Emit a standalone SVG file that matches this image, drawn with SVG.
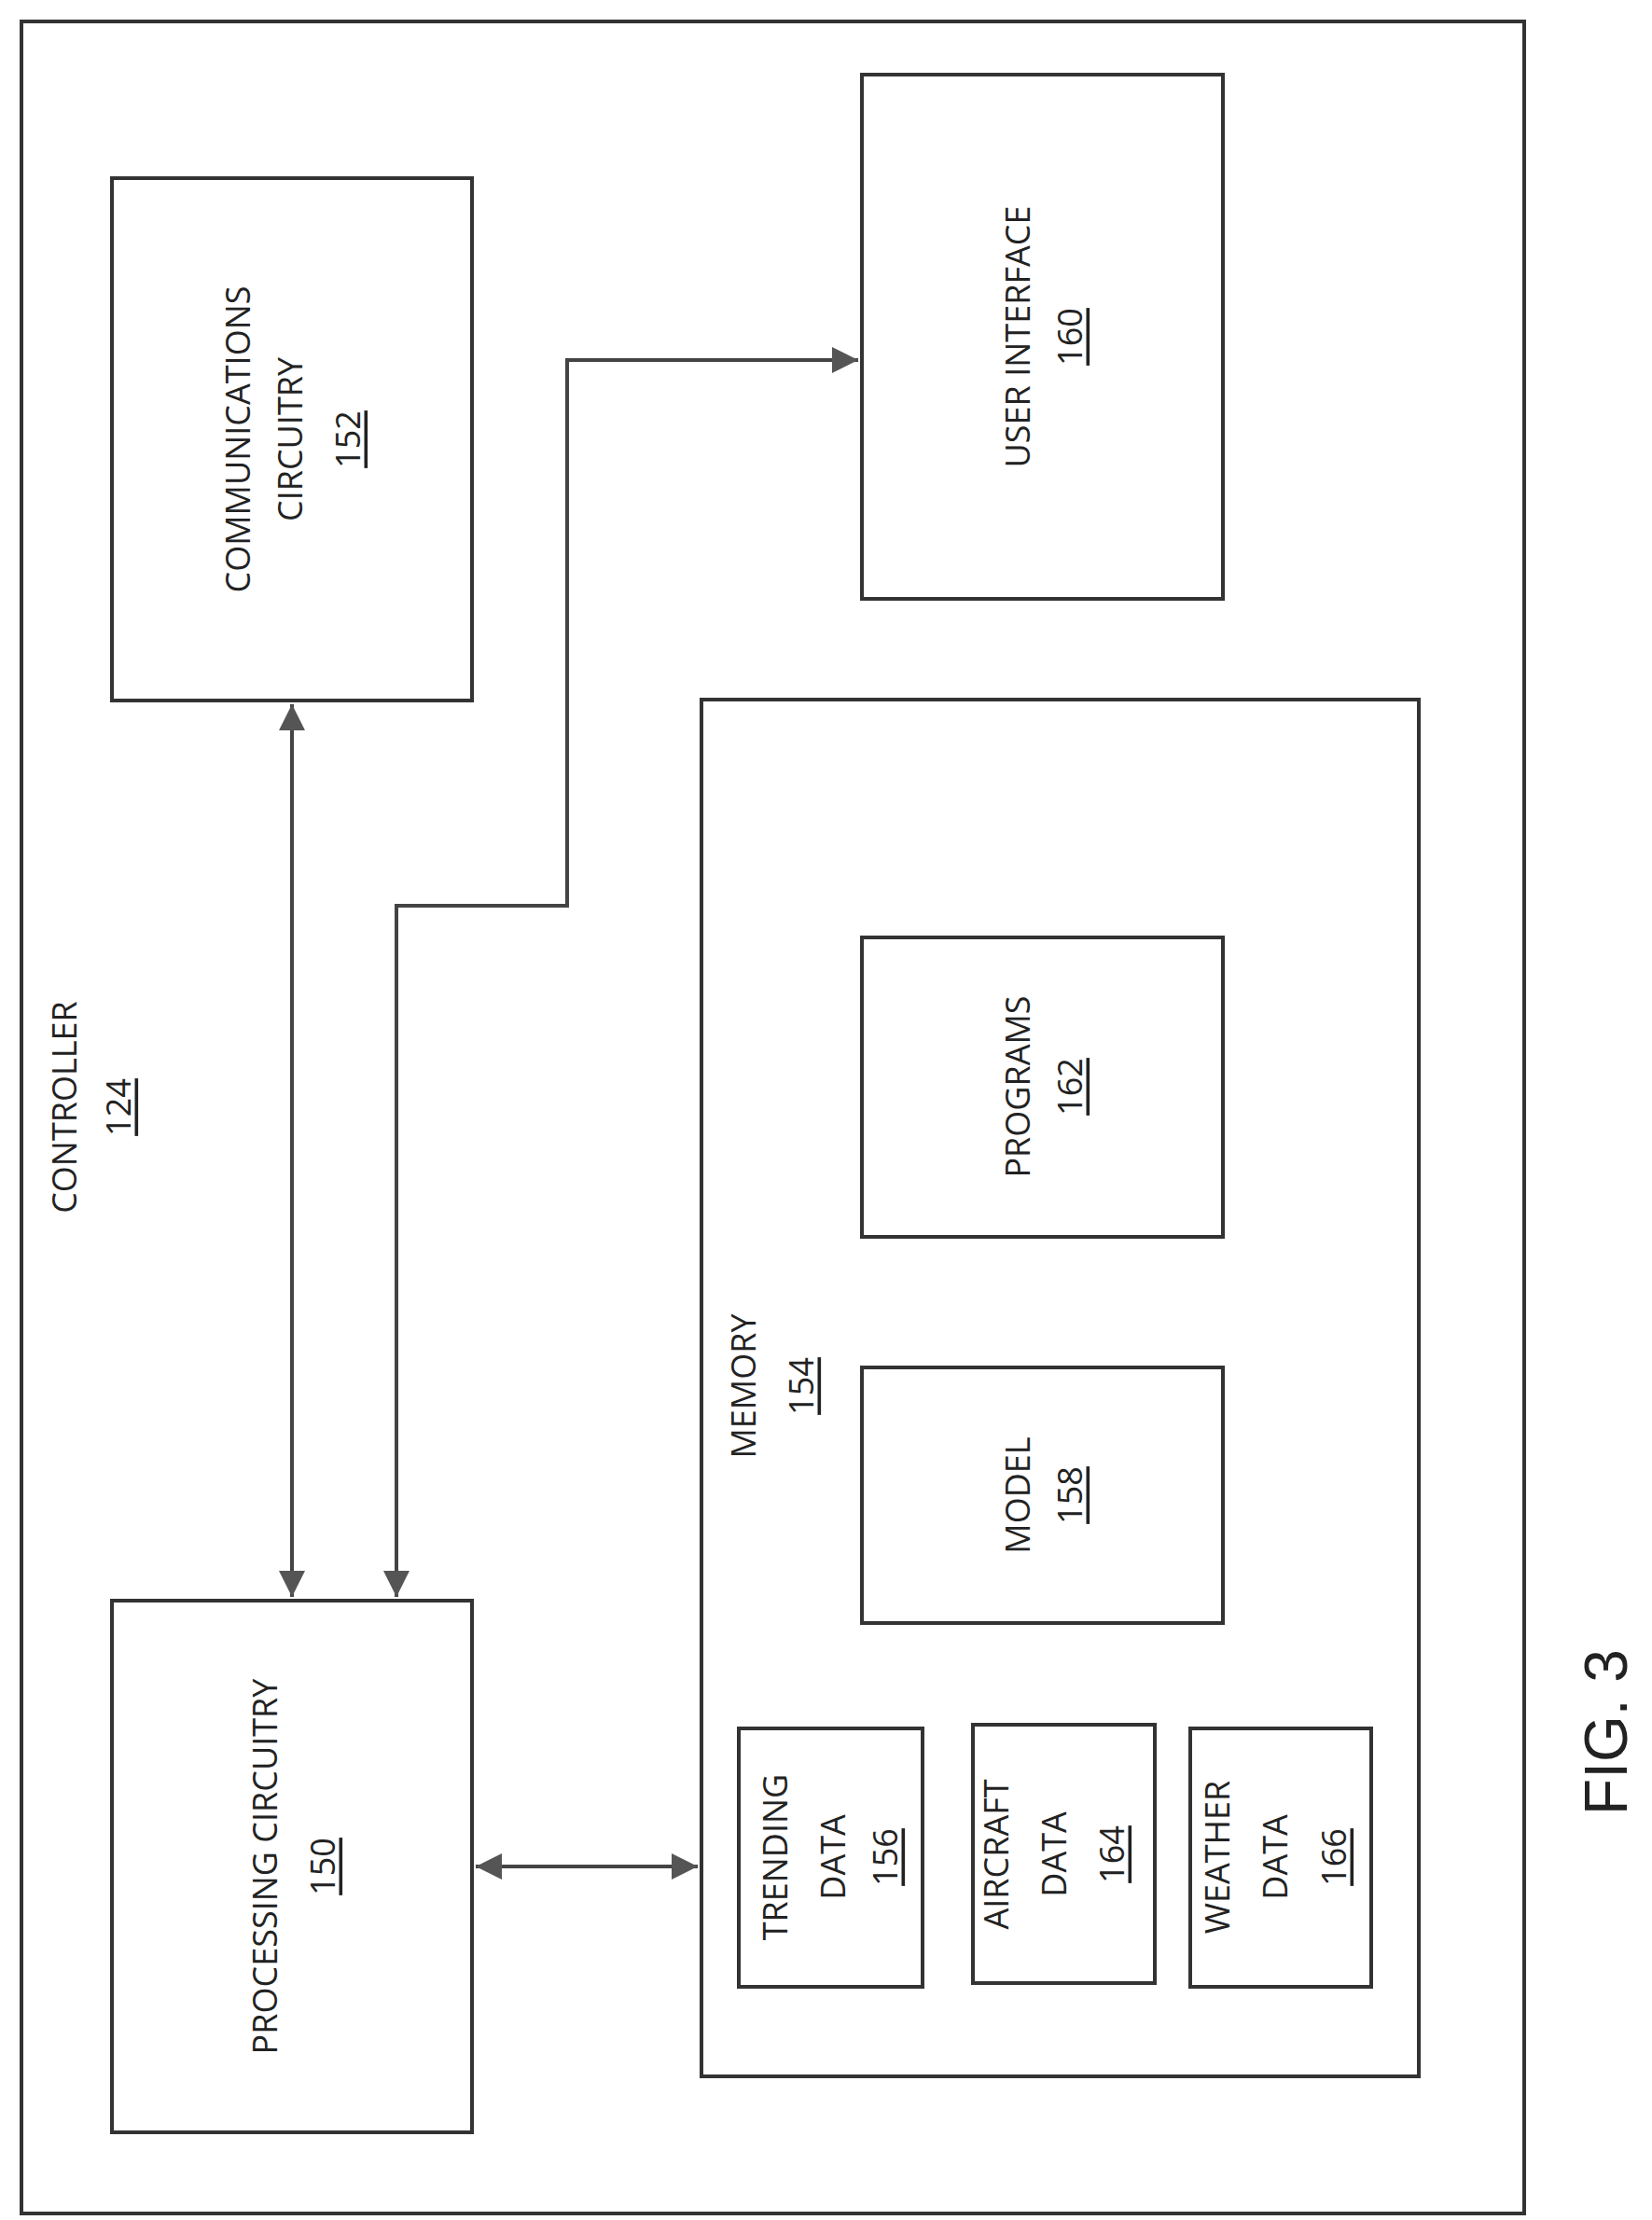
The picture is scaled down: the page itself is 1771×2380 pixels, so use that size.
<svg xmlns="http://www.w3.org/2000/svg" width="1771" height="2380" viewBox="0 0 1771 2380">
<style>
.b{fill:none;stroke:#333;stroke-width:4}
.t{font-family:"Open Sans","Liberation Sans",sans-serif;font-size:36px;fill:#222;text-anchor:middle;dominant-baseline:central}
.u{text-decoration:underline}
.c{fill:none;stroke:#444;stroke-width:4}
</style>
<defs>
<marker id="a" viewBox="0 0 10 10" refX="10" refY="5" markerWidth="7" markerHeight="7" orient="auto-start-reverse" markerUnits="strokeWidth"><path d="M0,0L10,5L0,10z" fill="#555"/></marker>
</defs>
<rect x="0" y="0" width="1771" height="2380" fill="#fff"/>
<g id="controller"><rect class="b" x="23" y="23" width="1611" height="2350"/>
<text class="t" transform="translate(68,1187) rotate(-90)">CONTROLLER</text>
<text class="t u" transform="translate(126,1187) rotate(-90)">124</text></g>
<g id="comm"><rect class="b" x="120" y="191" width="386" height="560"/>
<text class="t" transform="translate(254,471) rotate(-90)">COMMUNICATIONS</text>
<text class="t" transform="translate(310,471) rotate(-90)">CIRCUITRY</text>
<text class="t u" transform="translate(372,471) rotate(-90)">152</text></g>
<g id="ui"><rect class="b" x="924" y="80" width="387" height="562"/>
<text class="t" transform="translate(1090,361) rotate(-90)">USER INTERFACE</text>
<text class="t u" transform="translate(1146,361) rotate(-90)">160</text></g>
<g id="memory"><rect class="b" x="752" y="750" width="769" height="1476"/>
<text class="t" transform="translate(796,1486) rotate(-90)">MEMORY</text>
<text class="t u" transform="translate(858,1486) rotate(-90)">154</text></g>
<g id="programs"><rect class="b" x="924" y="1005" width="387" height="321"/>
<text class="t" transform="translate(1090,1165) rotate(-90)">PROGRAMS</text>
<text class="t u" transform="translate(1146,1165) rotate(-90)">162</text></g>
<g id="model"><rect class="b" x="924" y="1466" width="387" height="274"/>
<text class="t" transform="translate(1090,1603) rotate(-90)">MODEL</text>
<text class="t u" transform="translate(1146,1603) rotate(-90)">158</text></g>
<g id="trending"><rect class="b" x="792" y="1853" width="197" height="277"/>
<text class="t" transform="translate(830,1991) rotate(-90)">TRENDING</text>
<text class="t" transform="translate(892,1991) rotate(-90)">DATA</text>
<text class="t u" transform="translate(948,1991) rotate(-90)">156</text></g>
<g id="aircraft"><rect class="b" x="1043" y="1849" width="195" height="277"/>
<text class="t" transform="translate(1067,1988) rotate(-90)">AIRCRAFT</text>
<text class="t" transform="translate(1129,1988) rotate(-90)">DATA</text>
<text class="t u" transform="translate(1191,1988) rotate(-90)">164</text></g>
<g id="weather"><rect class="b" x="1276" y="1853" width="194" height="277"/>
<text class="t" transform="translate(1304,1991) rotate(-90)">WEATHER</text>
<text class="t" transform="translate(1366,1991) rotate(-90)">DATA</text>
<text class="t u" transform="translate(1429,1991) rotate(-90)">166</text></g>
<g id="processing"><rect class="b" x="120" y="1716" width="386" height="570"/>
<text class="t" transform="translate(283,2001) rotate(-90)">PROCESSING CIRCUITRY</text>
<text class="t u" transform="translate(345,2001) rotate(-90)">150</text></g>
<g id="connectors">
<path class="c" d="M313,755V1712" marker-start="url(#a)" marker-end="url(#a)"/>
<path class="c" d="M425,1712V971H608V386H920" marker-start="url(#a)" marker-end="url(#a)"/>
<path class="c" d="M510,2001H748" marker-start="url(#a)" marker-end="url(#a)"/>
</g>
<text id="fig" font-family="Liberation Sans,sans-serif" font-size="64" fill="#222" text-anchor="middle" dominant-baseline="central" transform="translate(1722,1857) rotate(-90)">FIG. 3</text>
</svg>
